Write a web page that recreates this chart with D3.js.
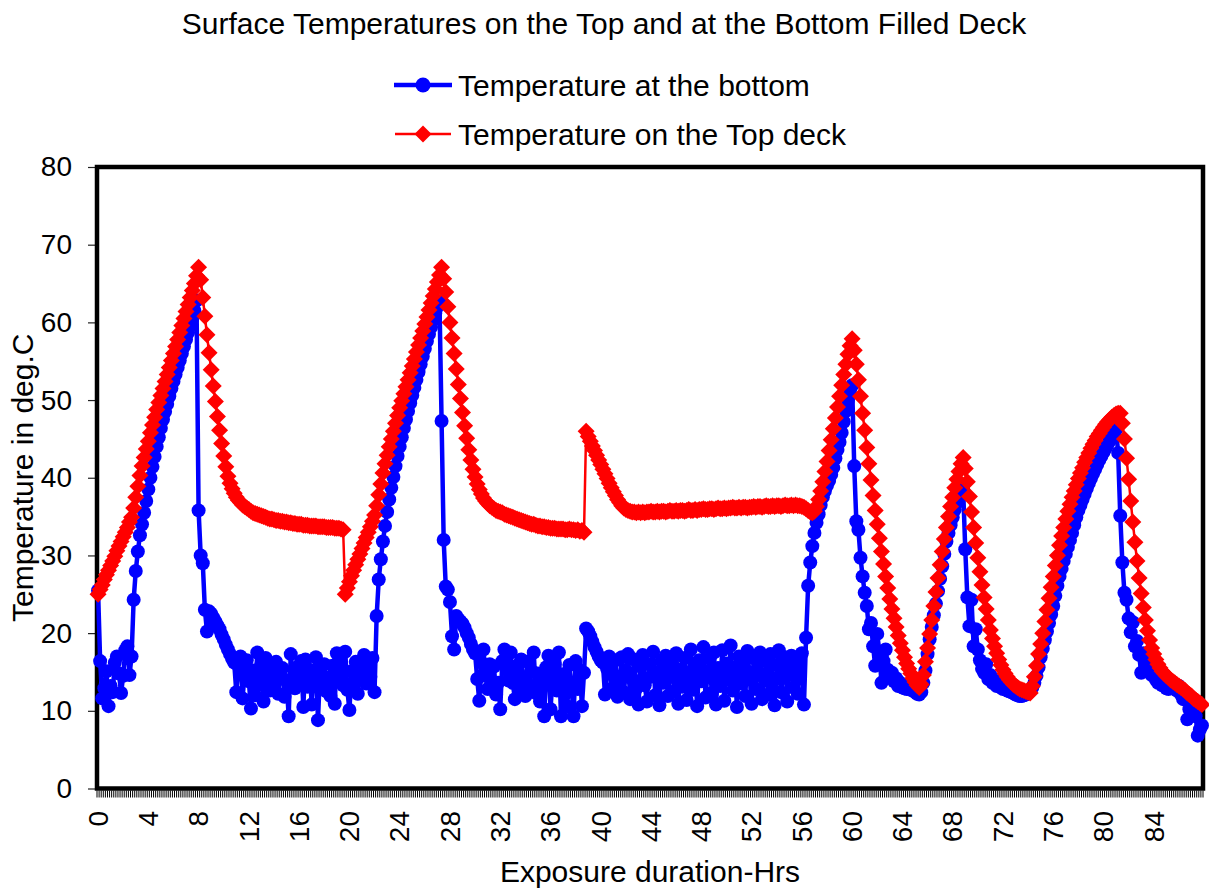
<!DOCTYPE html>
<html>
<head>
<meta charset="utf-8">
<script src="https://cdn.jsdelivr.net/npm/d3@7"></script>
<style>
  html, body { margin: 0; padding: 0; background: #fff; }
  svg { display: block; }
  text { font-family: "Liberation Sans", Arial, Helvetica, sans-serif; fill: #000; }
</style>
</head>
<body>
<svg id="chart" width="1209" height="891"></svg>
<script>
// Readings were logged every 10 minutes: index i corresponds to i/6 hours.
const sampleHours = d3.range(528).map(i => i / 6);

// Category labels shown on the x axis (every 4 hours) and y axis ticks.
const hourTicks = [0, 4, 8, 12, 16, 20, 24, 28, 32, 36, 40, 44, 48, 52, 56, 60, 64, 68, 72, 76, 80, 84];
const tempTicks = [0, 10, 20, 30, 40, 50, 60, 70, 80];

// Temperature at the bottom surface (deg C), one row per 4 hours.
const bottomTemp = [
  25.5, 16.4, 11.6, 12.9, 15.1, 10.6, 13.2, 12.4, 16.2, 17.0, 14.8, 12.3, 14.5, 17.8, 18.3, 14.6, 17.0, 24.3, 28.0, 30.5, 32.6, 34.0, 35.5, 37.0,
  38.5, 40.0, 41.4, 42.7, 44.0, 45.2, 46.4, 47.5, 48.5, 49.5, 50.5, 51.5, 52.4, 53.3, 54.2, 55.1, 56.0, 56.9, 57.8, 58.7, 59.6, 60.5, 61.5, 62.8,
  35.8, 30.0, 29.0, 23.0, 20.2, 22.8, 22.5, 22.0, 21.5, 21.0, 20.5, 19.8, 19.2, 18.5, 17.9, 17.3, 16.7, 16.2, 12.4, 15.8, 17.0, 11.6, 14.9, 16.5,
  13.8, 10.3, 15.2, 12.0, 17.5, 13.4, 15.9, 11.2, 16.8, 14.1, 12.6, 15.7, 13.0, 16.3, 12.2, 14.8, 15.5, 11.8, 13.9, 9.3, 17.3, 14.2, 12.9, 15.6,
  13.5, 16.4, 10.5, 16.6, 13.1, 15.3, 10.8, 14.6, 16.9, 8.8, 15.4, 13.7, 16.0, 12.5, 14.3, 11.9, 15.8, 10.9, 17.4, 14.0, 16.2, 13.3, 17.6, 12.7,
  10.1, 15.1, 13.6, 16.3, 12.2, 14.7, 15.9, 17.2, 13.5, 16.1, 14.4, 16.8, 12.4, 22.2, 26.9, 29.5, 31.8, 33.8, 35.6, 37.2, 38.7, 40.1, 41.5, 42.8,
  44.0, 45.2, 46.4, 47.5, 48.6, 49.6, 50.6, 51.6, 52.6, 53.6, 54.6, 55.6, 56.6, 57.6, 58.5, 59.4, 60.3, 61.2, 62.0, 62.6, 47.3, 32.0, 26.0, 25.6,
  24.0, 19.6, 17.9, 22.2, 21.8, 21.5, 21.2, 20.7, 20.0, 19.4, 18.6, 17.9, 17.4, 14.1, 11.3, 16.2, 17.9, 14.5, 12.8, 16.0, 13.2, 15.7, 12.1, 13.6,
  10.2, 16.4, 17.9, 15.3, 13.9, 17.5, 13.6, 11.5, 15.8, 12.7, 16.6, 14.2, 11.9, 16.3, 13.3, 15.1, 17.5, 12.3, 14.8, 11.2, 13.7, 9.3, 15.6, 17.1,
  10.2, 14.3, 16.0, 12.6, 17.5, 9.3, 14.7, 12.2, 10.6, 15.9, 13.4, 9.3, 16.4, 12.8, 15.2, 10.6, 14.9, 20.6, 20.2, 19.6, 18.9, 18.2, 17.6, 17.0,
  16.5, 16.2, 12.1, 15.4, 17.0, 12.8, 14.6, 16.5, 11.8, 13.9, 16.9, 12.4, 15.2, 17.3, 11.5, 14.1, 16.6, 12.9, 10.8, 15.7, 17.2, 13.3, 11.2, 16.0,
  14.4, 17.6, 12.0, 15.0, 10.7, 16.4, 13.6, 17.1, 11.9, 14.8, 16.2, 12.5, 17.4, 10.9, 15.3, 13.1, 16.8, 11.4, 14.5, 17.9, 12.7, 15.8, 10.6, 16.5,
  13.8, 18.2, 11.7, 14.9, 16.7, 12.3, 17.5, 10.8, 15.5, 13.2, 17.8, 11.3, 16.1, 14.0, 18.4, 12.6, 15.6, 10.5, 17.0, 13.5, 16.3, 11.9, 17.7, 14.7,
  10.9, 16.8, 12.8, 15.1, 17.5, 11.5, 14.2, 16.4, 12.1, 17.3, 13.7, 10.7, 15.9, 17.8, 12.4, 14.6, 16.9, 11.2, 15.4, 17.1, 13.0, 16.0, 12.2, 14.8,
  17.4, 10.8, 19.4, 26.1, 29.1, 31.2, 32.9, 34.2, 35.3, 36.5, 37.5, 38.3, 39.0, 39.6, 40.4, 41.3, 42.5, 43.6, 44.6, 45.8, 47.2, 48.6, 50.0, 51.3,
  51.9, 41.5, 34.4, 33.3, 29.7, 27.3, 25.2, 23.5, 20.5, 21.3, 18.3, 15.8, 19.9, 17.6, 13.6, 16.4, 17.9, 15.3, 14.4, 14.9, 13.8, 14.2, 13.2, 13.6,
  13.0, 12.9, 12.8, 13.1, 12.7, 12.6, 12.4, 12.2, 12.1, 12.4, 13.6, 15.2, 17.3, 19.2, 20.8, 22.3, 23.8, 25.4, 27.0, 28.6, 30.2, 31.8, 32.9, 33.9,
  34.9, 35.9, 36.8, 37.4, 37.9, 38.5, 30.8, 24.6, 20.9, 24.3, 18.3, 20.5, 17.9, 16.5, 15.4, 14.9, 16.0, 14.1, 14.6, 13.6, 13.9, 13.2, 13.5, 13.0,
  12.8, 12.9, 12.6, 12.5, 12.4, 12.3, 12.1, 12.0, 11.9, 11.9, 12.0, 12.1, 12.3, 12.6, 13.0, 13.6, 14.5, 15.6, 16.9, 18.0, 19.1, 20.2, 21.3, 22.4,
  23.5, 24.8, 26.1, 27.3, 28.3, 29.3, 30.2, 31.1, 32.0, 32.9, 33.9, 34.9, 35.8, 36.5, 37.2, 37.9, 38.6, 39.3, 39.9, 40.5, 41.1, 41.7, 42.3, 42.8,
  43.3, 43.8, 44.3, 44.8, 45.2, 45.6, 46.2, 43.2, 35.1, 29.1, 25.2, 24.3, 21.9, 20.1, 21.4, 18.3, 19.0, 17.2, 14.9, 17.4, 16.1, 15.4, 15.8, 14.6,
  15.2, 14.0, 13.6, 14.3, 13.3, 13.9, 12.9, 12.8, 13.4, 13.0, 13.4, 12.6, 13.2, 12.1, 11.5, 11.8, 8.9, 10.2, 9.6, 10.4, 9.3, 6.8, 7.6, 8.1
];

// Temperature on the top deck surface (deg C), one row per 4 hours.
const topDeckTemp = [
  25.0, 25.6, 26.2, 26.9, 27.5, 28.1, 28.7, 29.3, 29.9, 30.6, 31.2, 31.8, 32.4, 33.0, 33.6, 34.3, 34.9, 36.1, 37.5, 38.9, 40.3, 41.5, 42.6, 43.7,
  44.7, 45.8, 46.8, 47.8, 48.8, 49.7, 50.6, 51.5, 52.4, 53.3, 54.2, 55.1, 56.0, 56.9, 57.8, 58.7, 59.6, 60.5, 61.4, 62.3, 63.2, 64.1, 65.0, 66.0,
  67.1, 65.5, 63.2, 60.8, 58.4, 56.1, 53.9, 51.8, 49.8, 47.9, 46.1, 44.4, 42.8, 41.4, 40.2, 39.3, 38.6, 38.0, 37.5, 37.1, 36.8, 36.5, 36.3, 36.1,
  35.9, 35.7, 35.5, 35.4, 35.3, 35.2, 35.1, 35.0, 34.9, 34.8, 34.7, 34.7, 34.6, 34.5, 34.5, 34.4, 34.4, 34.3, 34.3, 34.2, 34.2, 34.1, 34.1, 34.0,
  34.0, 34.0, 33.9, 33.9, 33.9, 33.8, 33.8, 33.8, 33.8, 33.7, 33.7, 33.7, 33.7, 33.6, 33.6, 33.6, 33.6, 33.5, 33.5, 33.5, 33.4, 33.3, 25.0, 25.8,
  26.6, 27.4, 28.1, 28.8, 29.5, 30.2, 30.9, 31.6, 32.3, 33.0, 33.7, 34.4, 35.2, 36.4, 37.8, 39.2, 40.6, 41.8, 42.9, 44.0, 45.0, 46.0, 47.0, 48.0,
  49.0, 49.9, 50.8, 51.7, 52.6, 53.5, 54.4, 55.3, 56.2, 57.1, 58.0, 58.9, 59.8, 60.7, 61.6, 62.5, 63.4, 64.3, 65.2, 66.1, 67.1, 65.6, 63.9, 62.0,
  60.0, 58.0, 56.0, 54.0, 52.0, 50.2, 48.4, 46.7, 45.1, 43.6, 42.3, 41.1, 40.1, 39.2, 38.5, 37.9, 37.4, 37.0, 36.7, 36.4, 36.2, 36.0, 35.8, 35.7,
  35.6, 35.5, 35.3, 35.2, 35.1, 35.0, 34.9, 34.8, 34.7, 34.6, 34.5, 34.4, 34.3, 34.2, 34.1, 34.0, 34.0, 33.9, 33.8, 33.8, 33.7, 33.7, 33.6, 33.6,
  33.5, 33.5, 33.5, 33.4, 33.4, 33.4, 33.4, 33.3, 33.3, 33.4, 33.3, 33.3, 33.2, 33.3, 33.1, 33.2, 33.0, 46.0, 45.3, 44.7, 44.1, 43.5, 42.9, 42.3,
  41.7, 41.1, 40.5, 39.9, 39.3, 38.7, 38.2, 37.7, 37.2, 36.8, 36.4, 36.1, 35.9, 35.8, 35.7, 35.6, 35.6, 35.5, 35.6, 35.5, 35.6, 35.5, 35.6, 35.6,
  35.7, 35.6, 35.6, 35.7, 35.6, 35.7, 35.7, 35.6, 35.7, 35.8, 35.7, 35.7, 35.8, 35.7, 35.8, 35.8, 35.7, 35.8, 35.9, 35.8, 35.8, 35.9, 35.8, 35.9,
  35.9, 36.0, 35.9, 35.9, 36.0, 36.0, 35.9, 36.0, 36.1, 36.0, 36.0, 36.1, 36.0, 36.1, 36.1, 36.2, 36.1, 36.1, 36.2, 36.1, 36.2, 36.2, 36.1, 36.2,
  36.2, 36.3, 36.2, 36.3, 36.3, 36.2, 36.3, 36.4, 36.3, 36.3, 36.4, 36.3, 36.4, 36.4, 36.3, 36.4, 36.5, 36.4, 36.4, 36.5, 36.4, 36.5, 36.4, 36.4,
  36.3, 36.2, 36.0, 35.8, 35.6, 35.5, 35.7, 36.3, 37.2, 38.3, 39.5, 40.8, 42.1, 43.5, 44.9, 46.3, 47.7, 49.1, 50.5, 51.9, 53.3, 54.6, 55.9, 57.0,
  57.9, 56.4, 54.6, 52.6, 50.5, 48.3, 46.1, 43.9, 41.8, 39.7, 37.7, 35.8, 34.0, 32.2, 30.5, 28.9, 27.3, 25.8, 24.4, 23.1, 21.9, 20.8, 19.7, 18.7,
  17.8, 16.9, 16.1, 15.4, 14.8, 14.2, 13.7, 13.3, 13.0, 13.4, 14.6, 16.3, 18.1, 19.9, 21.7, 23.5, 25.3, 27.1, 28.8, 30.5, 32.1, 33.6, 35.0, 36.3,
  37.5, 38.7, 39.8, 40.8, 41.8, 42.6, 41.2, 39.5, 37.6, 35.6, 33.6, 31.6, 29.7, 27.9, 26.2, 24.6, 23.1, 21.7, 20.4, 19.3, 18.3, 17.4, 16.6, 15.9,
  15.3, 14.8, 14.4, 14.0, 13.7, 13.4, 13.2, 13.0, 12.8, 12.7, 12.6, 12.5, 12.4, 12.3, 13.2, 14.4, 15.8, 17.3, 18.6, 20.0, 21.5, 23.0, 24.5, 25.9,
  27.3, 28.7, 30.0, 31.3, 32.5, 33.6, 34.7, 35.7, 36.6, 37.5, 38.3, 39.1, 39.9, 40.6, 41.3, 42.0, 42.6, 43.2, 43.8, 44.3, 44.8, 45.3, 45.7, 46.1,
  46.5, 46.9, 47.2, 47.5, 47.8, 48.0, 48.2, 48.3, 48.3, 47.0, 45.0, 42.5, 39.8, 37.0, 34.3, 31.7, 29.3, 27.1, 25.1, 23.3, 21.7, 20.3, 19.1, 18.1,
  17.3, 16.6, 16.0, 15.5, 15.1, 14.8, 14.5, 14.3, 14.0, 13.8, 13.6, 13.4, 13.2, 13.0, 12.8, 12.6, 12.3, 12.1, 11.9, 11.6, 11.4, 11.2, 11.0, 10.8
];

const chartTitle = "Surface Temperatures on the Top and at the Bottom Filled Deck";
const seriesNames = ["Temperature at the bottom", "Temperature on the Top deck"];
const xTitle = "Exposure duration-Hrs";
const yTitle = "Temperature in deg.C";

const BLUE = "#0000ff";
const RED = "#ff0000";

const svg = d3.select("#chart");
svg.append("rect").attr("width", 1209).attr("height", 891).attr("fill", "#fff");

const plot = { left: 97, right: 1203, top: 167, bottom: 788.5 };

const idx = d3.range(sampleHours.length);
const x = d3.scaleBand().domain(idx).range([plot.left, plot.right]).padding(0);
const cx = i => x(i) + x.bandwidth() / 2;
const y = d3.scaleLinear().domain([0, 80]).range([plot.bottom, plot.top]);

// Title
svg.append("text")
  .attr("x", 604).attr("y", 34)
  .attr("text-anchor", "middle")
  .style("font-size", "30px")
  .text(chartTitle);

// Legend
const diamond = s => `M0,${-s}L${s},0L0,${s}L${-s},0Z`;
const legend = svg.append("g");
const lg1 = legend.append("g").attr("transform", "translate(0,85)");
lg1.append("line").attr("x1", 394).attr("x2", 452).attr("stroke", BLUE).attr("stroke-width", 4.5);
lg1.append("circle").attr("cx", 423).attr("r", 7.5).attr("fill", BLUE);
lg1.append("text").attr("x", 458).attr("y", 11).style("font-size", "30px").text(seriesNames[0]);

const lg2 = legend.append("g").attr("transform", "translate(0,134)");
lg2.append("line").attr("x1", 395).attr("x2", 451).attr("stroke", RED).attr("stroke-width", 2.7);
lg2.append("path").attr("transform", "translate(423,0)").attr("d", diamond(8.5)).attr("fill", RED);
lg2.append("text").attr("x", 458).attr("y", 11).style("font-size", "30px").text(seriesNames[1]);

// Y axis ticks and labels
const yAxis = d3.axisLeft(y).tickValues(tempTicks).tickSize(9).tickPadding(16).tickFormat(d3.format("d"));
const yAxisG = svg.append("g").attr("transform", `translate(${plot.left},0)`).call(yAxis);
yAxisG.select(".domain").remove();
yAxisG.selectAll(".tick line").attr("stroke", "#222").attr("stroke-width", 1.2);
yAxisG.selectAll(".tick text")
  .attr("fill", "#000")
  .style("font-family", '"Liberation Sans", Arial, sans-serif')
  .style("font-size", "28px");

// X axis: a tick at each category boundary, labels every 4 hours
const xTicks = svg.append("g").attr("stroke", "#000").attr("stroke-width", 1);
const boundaries = idx.map(i => x(i)).concat([x.range()[1]]);
xTicks.selectAll("line").data(boundaries).join("line")
  .attr("x1", d => d).attr("x2", d => d)
  .attr("y1", plot.bottom + 2).attr("y2", plot.bottom + 9);

const labelIdx = hourTicks.map(h => sampleHours.findIndex(t => Math.abs(t - h) < 1e-9));
svg.append("g").selectAll("text").data(labelIdx).join("text")
  .attr("transform", i => `translate(${cx(i)},811) rotate(-90)`)
  .attr("text-anchor", "end")
  .attr("dy", "0.35em")
  .style("font-size", "28px")
  .text(i => d3.format("d")(sampleHours[i]));

// Axis titles
svg.append("text")
  .attr("transform", `translate(33,${(plot.top + plot.bottom) / 2}) rotate(-90)`)
  .attr("text-anchor", "middle")
  .style("font-size", "30px")
  .text(yTitle);

svg.append("text")
  .attr("x", (plot.left + plot.right) / 2).attr("y", 882)
  .attr("text-anchor", "middle")
  .style("font-size", "30px")
  .text(xTitle);

// Plot area frame
svg.append("rect")
  .attr("x", plot.left).attr("y", plot.top)
  .attr("width", plot.right - plot.left).attr("height", plot.bottom - plot.top)
  .attr("fill", "none").attr("stroke", "#000").attr("stroke-width", 4.5);

// Series
const line = d3.line().x((d, i) => cx(i)).y(d => y(d));

const bottomG = svg.append("g");
bottomG.append("path").datum(bottomTemp)
  .attr("d", line).attr("fill", "none")
  .attr("stroke", BLUE).attr("stroke-width", 4.5).attr("stroke-linejoin", "round");
bottomG.selectAll("circle").data(bottomTemp).join("circle")
  .attr("cx", (d, i) => cx(i)).attr("cy", d => y(d)).attr("r", 7)
  .attr("fill", BLUE);

const topG = svg.append("g");
topG.append("path").datum(topDeckTemp)
  .attr("d", line).attr("fill", "none")
  .attr("stroke", RED).attr("stroke-width", 2.5).attr("stroke-linejoin", "round");
topG.selectAll("path.mk").data(topDeckTemp).join("path")
  .attr("class", "mk")
  .attr("transform", (d, i) => `translate(${cx(i)},${y(d)})`)
  .attr("d", diamond(8.5))
  .attr("fill", RED);
</script>
</body>
</html>
